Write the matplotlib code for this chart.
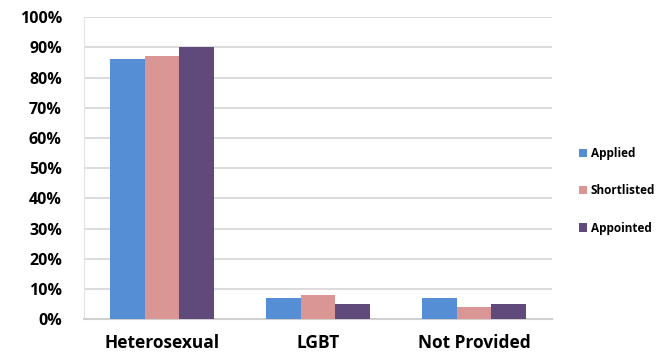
import numpy as np
import matplotlib
matplotlib.use('Agg')
from matplotlib import pyplot as plt

categories = ["Heterosexual", "LGBT", "Not Provided"]
series = ["Applied", "Shortlisted", "Appointed"]
applied = [86, 7, 7]
shortlisted = [87, 8, 4]
appointed = [90, 5, 5]
colors = ["#558ED5", "#D99694", "#604A7B"]

plt.rcParams['font.family'] = ['Open Sans', 'DejaVu Sans']
plt.rcParams['font.weight'] = 'bold'

fig = plt.figure(figsize=(6.57, 3.57), dpi=100)
ax = fig.add_axes([0.128, 0.106, 0.712, 0.846])

x = np.arange(len(categories))
w = 0.222
for i, (vals, name) in enumerate(zip([applied, shortlisted, appointed], series)):
    ax.bar(x + (i - 1) * w, vals, w, color=colors[i], label=name, zorder=3)

ax.set_xlim(-0.5, 2.5)
ax.set_ylim(0, 100)
ax.set_yticks(range(0, 101, 10))
ax.set_yticklabels(["{}%".format(v) for v in range(0, 101, 10)])
ax.set_xticks(x)
ax.set_xticklabels(categories)
ax.tick_params(axis='y', length=0, pad=16, labelsize=11.5)
ax.tick_params(axis='x', length=0, pad=11, labelsize=12.5)
for lab in ax.get_xticklabels() + ax.get_yticklabels():
    lab.set_fontweight('bold')

ax.grid(axis='y', color='#D9D9D9', linewidth=1.3, zorder=0)
for s in ['top', 'right']:
    ax.spines[s].set_visible(False)
ax.spines['left'].set_color('#E3E3E3')
ax.spines['bottom'].set_color('#D0D0D0')
ax.spines['bottom'].set_linewidth(1.5)

leg = ax.legend(loc='center left', bbox_to_anchor=(1.035, 0.425), frameon=False,
                prop={'weight': 'bold', 'size': 8.5}, handlelength=0.7,
                handleheight=0.7, handletextpad=0.3, labelspacing=2.05)

fig.savefig("out.png", dpi=100)
